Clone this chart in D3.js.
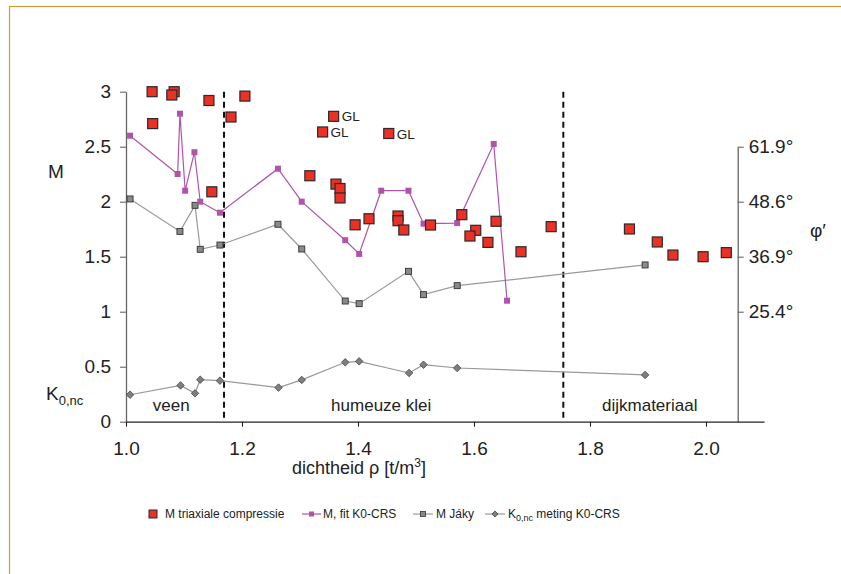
<!DOCTYPE html>
<html>
<head>
<meta charset="utf-8">
<script src="https://cdn.jsdelivr.net/npm/d3@7"></script>
<style>
  body { margin: 0; background: #fff; }
  svg { font-family: "Liberation Sans", Arial, sans-serif; }
</style>
</head>
<body>
<div id="visualization"></div>
<script>
// M triaxiale compressie (red squares)
let triaxRho = [1.045, 1.083, 1.079, 1.046, 1.143, 1.205, 1.181, 1.148, 1.358, 1.339, 1.453,
  1.317, 1.362, 1.369, 1.369, 1.395, 1.419, 1.469, 1.469, 1.479, 1.525, 1.579, 1.603, 1.593,
  1.624, 1.638, 1.681, 1.733, 1.868, 1.916, 1.943, 1.995, 2.035]
let triaxM = [3.0, 3.0, 2.97, 2.71, 2.92, 2.96, 2.77, 2.09, 2.776, 2.634, 2.62,
  2.236, 2.16, 2.12, 2.034, 1.79, 1.845, 1.87, 1.827, 1.743, 1.788, 1.882, 1.74, 1.688,
  1.63, 1.822, 1.545, 1.773, 1.752, 1.634, 1.515, 1.5, 1.537]
let triaxNote = ['', '', '', '', '', '', '', '', 'GL', 'GL', 'GL']

// M, fit K0-CRS
let fitRho = [1.007, 1.089, 1.093, 1.102, 1.118, 1.128, 1.162, 1.262, 1.303, 1.378, 1.402,
  1.440, 1.487, 1.513, 1.571, 1.634, 1.657]
let fitM = [2.6, 2.252, 2.80, 2.10, 2.45, 2.0, 1.90, 2.30, 2.0, 1.65, 1.525,
  2.10, 2.10, 1.80, 1.806, 2.525, 1.10]

// M Jaky
let jakyRho = [1.007, 1.093, 1.119, 1.128, 1.162, 1.262, 1.303, 1.378, 1.402, 1.487, 1.513, 1.571, 1.895]
let jakyM = [2.025, 1.73, 1.967, 1.567, 1.606, 1.795, 1.57, 1.097, 1.073, 1.367, 1.155, 1.237, 1.425]

// K0,nc meting K0-CRS
let k0Rho = [1.007, 1.094, 1.119, 1.128, 1.162, 1.263, 1.303, 1.378, 1.402, 1.488, 1.513, 1.571, 1.895]
let k0Val = [0.245, 0.33, 0.258, 0.382, 0.373, 0.31, 0.38, 0.54, 0.549, 0.443, 0.518, 0.488, 0.425]

let xTicks = [1.0, 1.2, 1.4, 1.6, 1.8, 2.0]
let yTicks = [0, 0.5, 1, 1.5, 2, 2.5, 3]
let phiTicks = [1, 1.5, 2, 2.5]
let boundaries = [1.169, 1.754]
let zoneNames = ['veen', 'humeuze klei', 'dijkmateriaal']
let zoneRho = [1.078, 1.44, 1.903]

let svg = d3.select('#visualization')
  .append('svg')
  .attr('width', 841)
  .attr('height', 574)

// frame
svg.append('rect')
  .attr('x', 9.5).attr('y', 6.5)
  .attr('width', 900).attr('height', 700)
  .attr('fill', 'none')
  .attr('stroke', '#d4992e')
  .attr('stroke-width', 1.2)

let xScale = d3.scaleLinear().domain([1.0, 2.1]).range([126, 764])
let yScale = d3.scaleLinear().domain([0, 3]).range([421.7, 91.7])
let phiScale = d3.scaleLinear().domain([0, 2.5]).range([yScale(0), yScale(2.5)])

function styleAxis(g, lineColor) {
  g.selectAll('text')
    .style('font-size', '19px')
    .attr('fill', '#222')
  g.select('.domain').attr('stroke', lineColor).attr('stroke-width', 1.3)
  g.selectAll('.tick line').attr('stroke', lineColor).attr('stroke-width', 1.1)
}

// left axis
let yAxis = svg.append('g')
  .attr('transform', 'translate(126,0)')
  .call(d3.axisLeft(yScale).tickValues(yTicks).tickSize(6).tickSizeOuter(0).tickFormat(d3.format('')))
styleAxis(yAxis, '#666')
yAxis.selectAll('text').attr('x', -15)

// right axis (phi')
let phiAxis = svg.append('g')
  .attr('transform', 'translate(737.7,0)')
  .call(d3.axisRight(phiScale).tickValues(phiTicks).tickSize(6).tickSizeOuter(0)
    .tickFormat(function (m) {
      let phi = Math.asin(3 * m / (6 + m)) * 180 / Math.PI
      return d3.format('.1f')(phi) + '°'
    }))
styleAxis(phiAxis, '#666')
phiAxis.selectAll('text').attr('x', 11)

// bottom axis
let xAxis = svg.append('g')
  .attr('transform', 'translate(0,421.7)')
  .call(d3.axisBottom(xScale).tickValues(xTicks).tickSize(5).tickSizeOuter(0).tickFormat(d3.format('.1f')))
styleAxis(xAxis, '#222')
xAxis.selectAll('text').attr('y', 20)

// zone boundaries
svg.selectAll('.boundary')
  .data(boundaries)
  .enter()
  .append('line')
  .attr('x1', d => xScale(d)).attr('x2', d => xScale(d))
  .attr('y1', yScale(3)).attr('y2', yScale(0))
  .attr('stroke', '#111')
  .attr('stroke-width', 2)
  .attr('stroke-dasharray', '6,4')

svg.selectAll('.zone')
  .data(zoneNames)
  .enter()
  .append('text')
  .attr('x', (d, i) => xScale(zoneRho[i]))
  .attr('y', 411)
  .attr('text-anchor', 'middle')
  .style('font-size', '17px')
  .attr('fill', '#222')
  .text(d => d)

// lines
let fitData = fitRho.map((r, i) => [r, fitM[i]])
let jakyData = jakyRho.map((r, i) => [r, jakyM[i]])
let k0Data = k0Rho.map((r, i) => [r, k0Val[i]])
let line = d3.line().x(d => xScale(d[0])).y(d => yScale(d[1]))

svg.append('path').datum(k0Data)
  .attr('d', line).attr('fill', 'none').attr('stroke', '#999').attr('stroke-width', 1.2)
svg.append('path').datum(jakyData)
  .attr('d', line).attr('fill', 'none').attr('stroke', '#999').attr('stroke-width', 1.2)
svg.append('path').datum(fitData)
  .attr('d', line).attr('fill', 'none').attr('stroke', '#b154a9').attr('stroke-width', 1.2)

let diamond = d3.symbol().type(d3.symbolDiamond2).size(36)
svg.selectAll('.k0')
  .data(k0Data)
  .enter()
  .append('path')
  .attr('transform', d => `translate(${xScale(d[0])},${yScale(d[1])})`)
  .attr('d', diamond)
  .attr('fill', '#7f7f7f')
  .attr('stroke', '#444')
  .attr('stroke-width', 0.8)

svg.selectAll('.jaky')
  .data(jakyData)
  .enter()
  .append('rect')
  .attr('x', d => xScale(d[0]) - 3)
  .attr('y', d => yScale(d[1]) - 3)
  .attr('width', 6).attr('height', 6)
  .attr('fill', '#8a8a8a')
  .attr('stroke', '#333')
  .attr('stroke-width', 0.9)

svg.selectAll('.fit')
  .data(fitData)
  .enter()
  .append('rect')
  .attr('x', d => xScale(d[0]) - 3)
  .attr('y', d => yScale(d[1]) - 3)
  .attr('width', 6).attr('height', 6)
  .attr('fill', '#b154a9')

// triaxial squares
let triax = svg.selectAll('.triax')
  .data(triaxRho)
  .enter()

triax.append('rect')
  .attr('x', d => xScale(d) - 5)
  .attr('y', (d, i) => yScale(triaxM[i]) - 5)
  .attr('width', 10).attr('height', 10)
  .attr('fill', '#ec3025')
  .attr('stroke', '#2a2a2a')
  .attr('stroke-width', 1.2)

triax.append('text')
  .attr('x', d => xScale(d) + 8)
  .attr('y', (d, i) => yScale(triaxM[i]) + 5)
  .style('font-size', '13.5px')
  .attr('fill', '#222')
  .text((d, i) => triaxNote[i] || '')

// axis titles
svg.append('text')
  .attr('x', 48).attr('y', 178)
  .style('font-size', '19px').attr('fill', '#222')
  .text('M')

let k0Title = svg.append('text')
  .attr('x', 46).attr('y', 400)
  .style('font-size', '19px').attr('fill', '#222')
k0Title.append('tspan').text('K')
k0Title.append('tspan').attr('dy', 5).style('font-size', '13px').text('0,nc')

svg.append('text')
  .attr('x', 818).attr('y', 237)
  .attr('text-anchor', 'middle')
  .style('font-size', '19px').attr('fill', '#222')
  .text('φ′')

let xTitle = svg.append('text')
  .attr('x', 359).attr('y', 474)
  .attr('text-anchor', 'middle')
  .style('font-size', '18px').attr('fill', '#222')
xTitle.append('tspan').text('dichtheid ρ [t/m')
xTitle.append('tspan').attr('dy', -7).style('font-size', '12px').text('3')
xTitle.append('tspan').attr('dy', 7).text(']')

// legend
let legendY = 514
let legend = svg.append('g').style('font-size', '12px')

legend.append('rect')
  .attr('x', 149).attr('y', legendY - 4)
  .attr('width', 8).attr('height', 8)
  .attr('fill', '#ec3025').attr('stroke', '#2a2a2a').attr('stroke-width', 1)
legend.append('text').attr('x', 165).attr('y', legendY + 4).attr('fill', '#222').text('M triaxiale compressie')

legend.append('line').attr('x1', 302).attr('x2', 321).attr('y1', legendY).attr('y2', legendY)
  .attr('stroke', '#b154a9').attr('stroke-width', 1.2)
legend.append('rect').attr('x', 309).attr('y', legendY - 2.5).attr('width', 5).attr('height', 5).attr('fill', '#b154a9')
legend.append('text').attr('x', 323).attr('y', legendY + 4).attr('fill', '#222').text('M, fit K0-CRS')

legend.append('line').attr('x1', 413).attr('x2', 433).attr('y1', legendY).attr('y2', legendY)
  .attr('stroke', '#999').attr('stroke-width', 1.2)
legend.append('rect').attr('x', 420.5).attr('y', legendY - 2.5).attr('width', 5).attr('height', 5)
  .attr('fill', '#8a8a8a').attr('stroke', '#333').attr('stroke-width', 0.8)
legend.append('text').attr('x', 436).attr('y', legendY + 4).attr('fill', '#222').text('M Jáky')

legend.append('line').attr('x1', 485).attr('x2', 505).attr('y1', legendY).attr('y2', legendY)
  .attr('stroke', '#999').attr('stroke-width', 1.2)
legend.append('path').attr('transform', `translate(495,${legendY})`)
  .attr('d', d3.symbol().type(d3.symbolDiamond2).size(24))
  .attr('fill', '#7f7f7f').attr('stroke', '#444').attr('stroke-width', 0.8)
let k0Legend = legend.append('text').attr('x', 508).attr('y', legendY + 4).attr('fill', '#222')
k0Legend.append('tspan').text('K')
k0Legend.append('tspan').attr('dy', 3).style('font-size', '9px').text('0,nc')
k0Legend.append('tspan').attr('dy', -3).text(' meting K0-CRS')
</script>
</body>
</html>
